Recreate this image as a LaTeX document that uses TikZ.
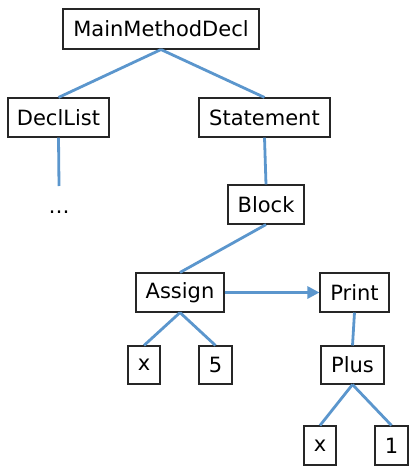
\documentclass[tikz,border=0pt]{standalone}
\usepackage{fontspec}
\setmainfont{DejaVu Sans}
\usetikzlibrary{arrows.meta}
\definecolor{edgeblue}{RGB}{91,150,205}
\begin{document}
\begin{tikzpicture}[x=1pt,y=-1pt,
  box/.style={draw=black!85,line width=1.1pt,fill=white,inner sep=0pt,font=\fontsize{21}{24}\selectfont},
  edge/.style={draw=edgeblue,line width=2.8pt}]
\useasboundingbox (0,0) rectangle (409,466);
\node[box,minimum width=196pt,minimum height=40pt] (main) at (161,29) {MainMethodDecl};
\node[box,minimum width=101pt,minimum height=39pt] (decl) at (58.5,117.5) {DeclList};
\node[box,minimum width=131pt,minimum height=39pt] (stmt) at (264.5,117.5) {Statement};
\node[box,minimum width=76pt,minimum height=39pt] (block) at (266,204.5) {Block};
\node[box,minimum width=88pt,minimum height=39pt] (assign) at (180,292.5) {Assign};
\node[box,minimum width=69pt,minimum height=39pt] (print) at (354.5,292.5) {Print};
\node[box,minimum width=32pt,minimum height=38pt] (xa) at (144,365) {x};
\node[box,minimum width=33pt,minimum height=38pt] (five) at (215.5,365) {5};
\node[box,minimum width=63pt,minimum height=38pt] (plus) at (352.5,365) {Plus};
\node[box,minimum width=32pt,minimum height=39pt] (xb) at (320,445.5) {x};
\node[box,minimum width=33pt,minimum height=39pt] (one) at (391.5,445.5) {1};
\node[font=\fontsize{21}{24}\selectfont,inner sep=0pt] (dots) at (59,212) {…};
\coordinate (declend) at (59,186);
\draw[edge] (main.south) -- (decl.north);
\draw[edge] (main.south) -- (stmt.north);
\draw[edge] (decl.south) -- (declend);
\draw[edge] (stmt.south) -- (block.north);
\draw[edge] (block.south) -- (assign.north);
\draw[edge] (assign.south) -- (xa.north);
\draw[edge] (assign.south) -- (five.north);
\draw[edge] (print.south) -- (plus.north);
\draw[edge] (plus.south) -- (xb.north);
\draw[edge] (plus.south) -- (one.north);
\draw[edge,-{Triangle[length=12pt,width=12pt]}] (assign.east) -- (print.west);
\end{tikzpicture}
\end{document}
